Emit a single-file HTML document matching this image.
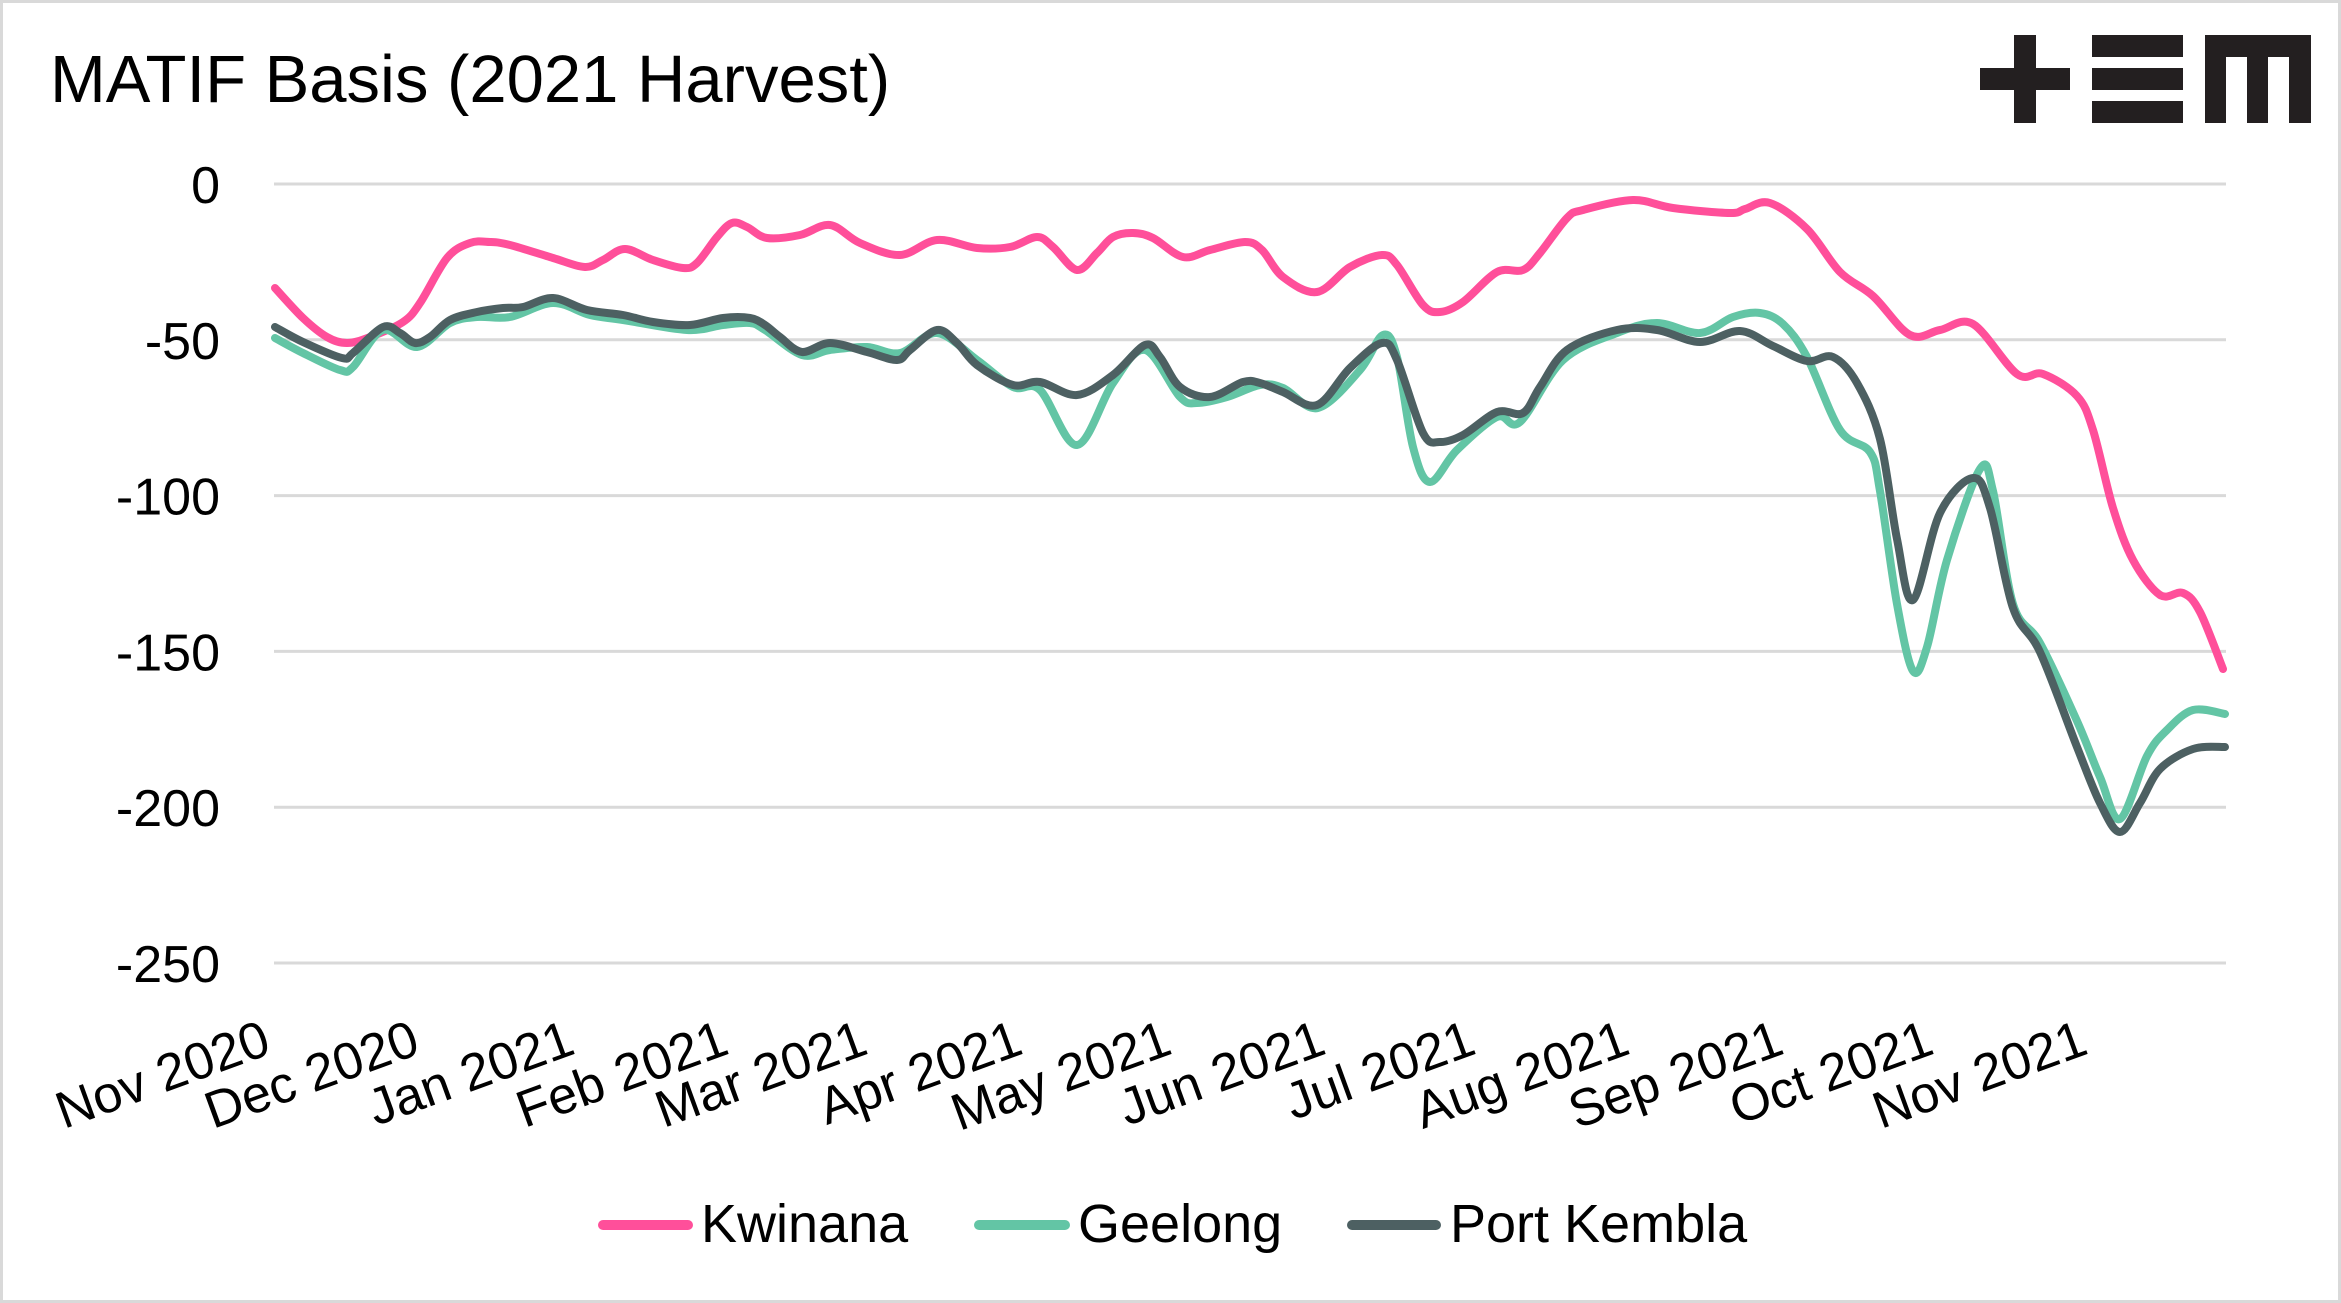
<!DOCTYPE html>
<html>
<head>
<meta charset="utf-8">
<style>
html,body{margin:0;padding:0;background:#fff;}
svg{display:block;}
text{font-family:"Liberation Sans",Arial,sans-serif;fill:#000;}
</style>
</head>
<body>
<svg id="chart" width="2341" height="1303" viewBox="0 0 2341 1303" xmlns="http://www.w3.org/2000/svg">
<rect x="0" y="0" width="2341" height="1303" fill="#fff"/>
<rect x="1.5" y="1.5" width="2338" height="1300" fill="none" stroke="#d9d9d9" stroke-width="3"/>

<!-- Title -->
<text x="50" y="102" font-size="67">MATIF Basis (2021 Harvest)</text>

<!-- Logo -->
<g fill="#231f20">
  <rect x="1980" y="68" width="90" height="22"/>
  <rect x="2014" y="35" width="22" height="88"/>
  <rect x="2092" y="35" width="91" height="22"/>
  <rect x="2092" y="68" width="91" height="22"/>
  <rect x="2092" y="101" width="91" height="22"/>
  <rect x="2205" y="35" width="106" height="22"/>
  <rect x="2205" y="35" width="21" height="88"/>
  <rect x="2247" y="35" width="21" height="88"/>
  <rect x="2289" y="35" width="22" height="88"/>
</g>

<!-- Gridlines -->
<g stroke="#d9d9d9" stroke-width="3">
  <line x1="274" y1="184" x2="2226" y2="184"/>
  <line x1="274" y1="339.8" x2="2226" y2="339.8"/>
  <line x1="274" y1="495.6" x2="2226" y2="495.6"/>
  <line x1="274" y1="651.4" x2="2226" y2="651.4"/>
  <line x1="274" y1="807.2" x2="2226" y2="807.2"/>
  <line x1="274" y1="963" x2="2226" y2="963"/>
</g>

<!-- Y labels -->
<g font-size="52" text-anchor="end">
  <text x="220" y="203">0</text>
  <text x="220" y="358.8">-50</text>
  <text x="220" y="514.6">-100</text>
  <text x="220" y="670.4">-150</text>
  <text x="220" y="826.2">-200</text>
  <text x="220" y="982">-250</text>
</g>

<!-- X labels -->
<g font-size="52" text-anchor="end">
  <text x="273" y="1053" transform="rotate(-20 273 1053)">Nov 2020</text>
  <text x="422" y="1053" transform="rotate(-20 422 1053)">Dec 2020</text>
  <text x="577" y="1053" transform="rotate(-20 577 1053)">Jan 2021</text>
  <text x="731" y="1053" transform="rotate(-20 731 1053)">Feb 2021</text>
  <text x="870" y="1053" transform="rotate(-20 870 1053)">Mar 2021</text>
  <text x="1025" y="1053" transform="rotate(-20 1025 1053)">Apr 2021</text>
  <text x="1174" y="1053" transform="rotate(-20 1174 1053)">May 2021</text>
  <text x="1328" y="1053" transform="rotate(-20 1328 1053)">Jun 2021</text>
  <text x="1478" y="1053" transform="rotate(-20 1478 1053)">Jul 2021</text>
  <text x="1632" y="1053" transform="rotate(-20 1632 1053)">Aug 2021</text>
  <text x="1786" y="1053" transform="rotate(-20 1786 1053)">Sep 2021</text>
  <text x="1936" y="1053" transform="rotate(-20 1936 1053)">Oct 2021</text>
  <text x="2090" y="1053" transform="rotate(-20 2090 1053)">Nov 2021</text>
</g>

<!-- Series -->
<g fill="none" stroke-width="8" stroke-linecap="round" stroke-linejoin="round">
  <path id="kw" stroke="#ff4f9a" data-pts="275,288 303,318 327,337 347,343 370,337 403,322 420,303 447,258 470,243 490,242 510,245 553,258 585,267 603,260 625,249 653,260 683,268 697,263 717,237 732,223 747,227 767,238 800,235 830,225 860,243 900,255 937,240 977,248 1010,247 1037,237 1053,247 1077,270 1097,253 1113,237 1133,233 1153,238 1183,257 1210,250 1245,242 1262,250 1283,277 1317,292 1350,267 1382,255 1397,265 1423,305 1440,312 1463,302 1497,272 1523,270 1540,253 1567,218 1583,210 1633,200 1673,208 1730,213 1745,209 1770,203 1807,229 1840,272 1873,296 1910,335 1940,330 1973,324 2017,374 2043,374 2077,396 2093,430 2113,508 2133,560 2160,595 2183,593 2200,612 2223,669"/>
  <path id="ge" stroke="#63c5a5" data-pts="275,338 303,353 340,370 353,367 383,330 417,347 450,323 477,317 510,317 553,303 590,315 623,320 687,330 723,325 750,323 765,330 802,355 830,350 867,347 900,353 937,333 977,360 1013,387 1040,390 1077,445 1113,383 1145,350 1180,397 1197,403 1227,397 1260,385 1283,388 1318,408 1360,370 1383,335 1397,357 1413,447 1430,482 1457,450 1497,417 1520,422 1563,360 1617,333 1657,323 1700,333 1733,317 1760,313 1783,324 1807,357 1840,430 1870,452 1880,491 1897,604 1913,671 1927,647 1947,560 1980,469 1993,491 2013,604 2040,643 2077,721 2100,777 2120,819 2147,756 2167,730 2193,710 2225,714"/>
  <path id="pk" stroke="#4d6062" data-pts="275,327 303,342 342,358 353,353 383,327 400,333 415,343 430,337 450,320 477,312 503,308 523,307 553,298 587,310 623,315 653,322 690,325 723,318 750,318 765,325 780,337 802,352 830,343 867,352 897,360 910,350 937,330 957,343 977,365 1013,385 1040,382 1077,395 1113,375 1145,345 1160,357 1180,387 1210,397 1243,382 1260,383 1283,392 1317,405 1350,368 1382,343 1397,360 1423,433 1440,442 1463,435 1497,412 1523,413 1540,387 1567,350 1617,330 1657,330 1700,342 1740,331 1773,346 1807,361 1833,357 1857,383 1880,439 1897,539 1913,600 1940,513 1973,478 1990,508 2013,608 2040,652 2077,747 2100,803 2120,832 2140,803 2160,769 2193,749 2225,747"/>
</g>

<!-- Legend -->
<g stroke-width="10" stroke-linecap="round">
  <line x1="603" y1="1225" x2="688" y2="1225" stroke="#ff4f9a"/>
  <line x1="979" y1="1225" x2="1065" y2="1225" stroke="#63c5a5"/>
  <line x1="1352" y1="1225" x2="1436" y2="1225" stroke="#4d6062"/>
</g>
<g font-size="54">
  <text x="701" y="1242">Kwinana</text>
  <text x="1078" y="1242">Geelong</text>
  <text x="1450" y="1242">Port Kembla</text>
</g>
</svg>
<script>
(function(){
  var ids=["kw","ge","pk"];
  for(var k=0;k<ids.length;k++){
    var el=document.getElementById(ids[k]);
    var pts=el.getAttribute("data-pts").trim().split(/\s+/).map(function(s){var a=s.split(",");return [parseFloat(a[0]),parseFloat(a[1])];});
    var d="M"+pts[0][0]+","+pts[0][1];
    for(var i=0;i<pts.length-1;i++){
      var p0=pts[i-1]||pts[i],p1=pts[i],p2=pts[i+1],p3=pts[i+2]||pts[i+1];
      var c1x=p1[0]+(p2[0]-p0[0])/6,c1y=p1[1]+(p2[1]-p0[1])/6;
      var c2x=p2[0]-(p3[0]-p1[0])/6,c2y=p2[1]-(p3[1]-p1[1])/6;
      d+=" C"+c1x.toFixed(1)+","+c1y.toFixed(1)+" "+c2x.toFixed(1)+","+c2y.toFixed(1)+" "+p2[0]+","+p2[1];
    }
    el.setAttribute("d",d);
  }
})();
</script>
</body>
</html>
